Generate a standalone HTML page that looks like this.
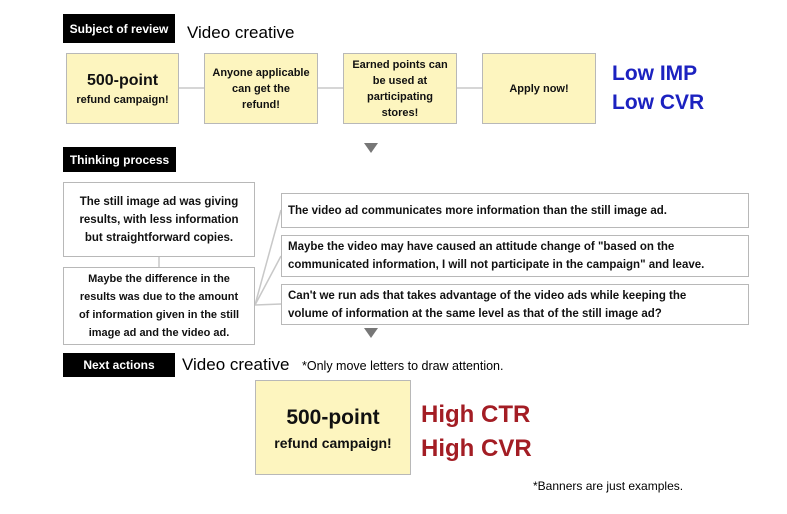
<!DOCTYPE html>
<html><head><style>
body{margin:0;width:787px;height:514px;background:#fff;position:relative;overflow:hidden;font-family:"Liberation Sans","DejaVu Sans",sans-serif;}
div{position:absolute;box-sizing:border-box;}
.lbl{background:#000;color:#fff;font-weight:bold;font-size:12px;display:flex;align-items:center;justify-content:center;}
.y{background:#fdf5bf;border:1.5px solid #b8b8b8;display:flex;align-items:center;justify-content:center;text-align:center;font-weight:bold;font-size:11px;line-height:16px;color:#111;}
.w{background:#fff;border:1.5px solid #b8b8b8;font-weight:bold;font-size:11.5px;line-height:18px;color:#111;display:flex;align-items:center;}
.t{white-space:nowrap;}
</style></head><body>
<svg width="787" height="514" style="position:absolute;left:0;top:0">
<g stroke="#c8c8c8" stroke-width="1.5">
<line x1="179" y1="88" x2="204" y2="88"/><line x1="318" y1="88" x2="343" y2="88"/><line x1="457" y1="88" x2="482" y2="88"/>
<line x1="159" y1="256" x2="159" y2="267"/>
<line x1="255" y1="305" x2="281" y2="210"/><line x1="255" y1="305" x2="281" y2="256"/><line x1="255" y1="305" x2="281" y2="304"/>
</g>
<polygon points="364,143 378,143 371,153" fill="#777"/>
<polygon points="364,328 378,328 371,338" fill="#777"/>
</svg>
<div class="lbl" style="left:63px;top:14px;width:112px;height:29px">Subject of review</div>
<div class="t" style="left:187px;top:23px;font-size:17px">Video creative</div>
<div class="y" style="left:66px;top:53px;width:113px;height:71px;flex-direction:column"><span style="font-size:16px;line-height:22px">500-point</span><span>refund campaign!</span></div>
<div class="y" style="left:204px;top:53px;width:114px;height:71px">Anyone applicable<br>can get the<br>refund!</div>
<div class="y" style="left:343px;top:53px;width:114px;height:71px">Earned points can<br>be used at<br>participating<br>stores!</div>
<div class="y" style="left:482px;top:53px;width:114px;height:71px">Apply now!</div>
<div class="t" style="left:612px;top:59px;font-size:21px;font-weight:bold;color:#1c22c0;line-height:29px">Low IMP<br>Low CVR</div>
<div class="lbl" style="left:63px;top:147px;width:113px;height:25px">Thinking process</div>
<div class="w" style="left:63px;top:182px;width:192px;height:75px;justify-content:center;text-align:center">The still image ad was giving<br>results, with less information<br>but straightforward copies.</div>
<div class="w" style="left:63px;top:267px;width:192px;height:78px;justify-content:center;text-align:center;font-size:11px">Maybe the difference in the<br>results was due to the amount<br>of information given in the still<br>image ad and the video ad.</div>
<div class="w" style="left:281px;top:193px;width:468px;height:35px;padding-left:6px">The video ad communicates more information than the still image ad.</div>
<div class="w" style="left:281px;top:235px;width:468px;height:42px;padding-left:6px">Maybe the video may have caused an attitude change of "based on the<br>communicated information, I will not participate in the campaign" and leave.</div>
<div class="w" style="left:281px;top:284px;width:468px;height:41px;padding-left:6px">Can't we run ads that takes advantage of the video ads while keeping the<br>volume of information at the same level as that of the still image ad?</div>
<div class="lbl" style="left:63px;top:353px;width:112px;height:24px">Next actions</div>
<div class="t" style="left:182px;top:355px;font-size:17px">Video creative</div>
<div class="t" style="left:302px;top:359px;font-size:12.5px">*Only move letters to draw attention.</div>
<div class="y" style="left:255px;top:380px;width:156px;height:95px;flex-direction:column"><span style="font-size:21px;line-height:30px">500-point</span><span style="font-size:14px;line-height:20px">refund campaign!</span></div>
<div class="t" style="left:421px;top:398px;font-size:24px;font-weight:bold;color:#a31d24;line-height:34px">High CTR<br>High CVR</div>
<div class="t" style="left:533px;top:479px;font-size:12px">*Banners are just examples.</div>
</body></html>
